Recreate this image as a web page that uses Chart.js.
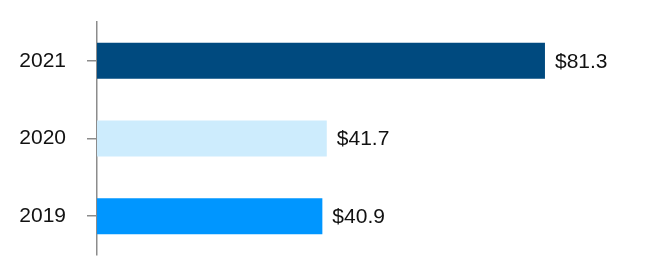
<!DOCTYPE html>
<html>
<head>
<meta charset="utf-8">
<script src="https://cdn.jsdelivr.net/npm/chart.js@4"></script>
<style>
  html, body { margin: 0; padding: 0; background: #fff; }
  #wrap { width: 672px; height: 276px; position: relative; }
</style>
</head>
<body>
<div id="wrap"><canvas id="revenueChart"></canvas></div>
<script>
const years = ['2021', '2020', '2019'];
const revenue = [81.3, 41.7, 40.9];
const barColors = ['#004a7f', '#cdecfd', '#0096ff'];

// draws the "$xx.x" label just past the end of each bar
const valueLabels = {
  id: 'valueLabels',
  afterDatasetsDraw(chart) {
    const ctx = chart.ctx;
    const meta = chart.getDatasetMeta(0);
    ctx.save();
    ctx.font = '21px "Liberation Sans", Arial, sans-serif';
    ctx.fillStyle = '#111';
    ctx.textAlign = 'left';
    ctx.textBaseline = 'middle';
    meta.data.forEach((bar, i) => {
      ctx.fillText('$' + revenue[i].toFixed(1), bar.x + 10, bar.y + 1);
    });
    ctx.restore();
  }
};

new Chart(document.getElementById('revenueChart'), {
  type: 'bar',
  data: {
    labels: years,
    datasets: [{
      data: revenue,
      backgroundColor: barColors,
      borderWidth: 0,
      barPercentage: 0.463,
      categoryPercentage: 1
    }]
  },
  options: {
    indexAxis: 'y',
    responsive: true,
    maintainAspectRatio: false,
    animation: false,
    layout: { padding: { top: 22, bottom: 21, left: 20, right: 24 } },
    plugins: {
      legend: { display: false },
      tooltip: { enabled: false }
    },
    scales: {
      x: {
        display: false,
        min: 0,
        max: 100
      },
      y: {
        afterFit(scale) {
          scale.width = 77;
          scale.paddingTop = 0;
          scale.paddingBottom = 0;
        },
        grid: {
          offset: false,
          drawOnChartArea: false,
          drawTicks: true,
          tickLength: 10,
          tickColor: '#8c8c8c',
          lineWidth: 1.5
        },
        border: { display: true, color: '#8c8c8c', width: 1.5 },
        ticks: {
          padding: 21,
          color: '#111',
          font: { family: '"Liberation Sans", Arial, sans-serif', size: 21 }
        }
      }
    }
  },
  plugins: [valueLabels]
});
</script>
</body>
</html>
